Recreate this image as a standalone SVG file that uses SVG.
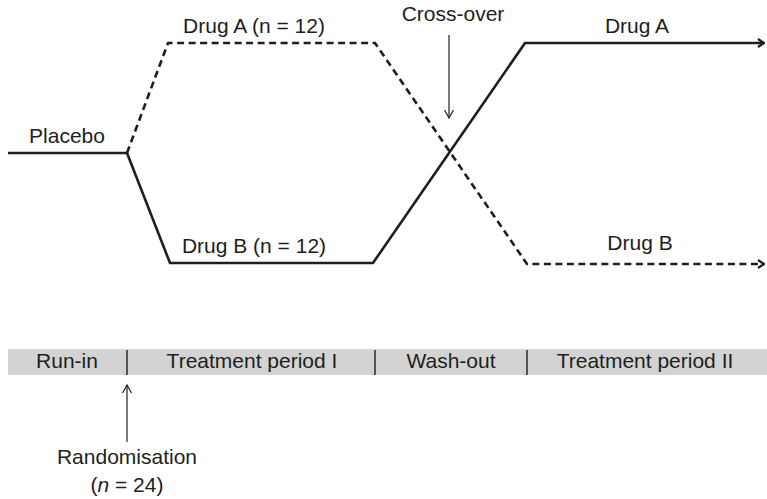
<svg xmlns="http://www.w3.org/2000/svg" width="767" height="499" viewBox="0 0 767 499">
  <style>
    text { font-family: "Liberation Sans", Arial, sans-serif; font-size: 21px; fill: #1e1e1e; text-anchor: middle; }
    .arm { fill: none; stroke: #1e1e1e; stroke-width: 2.6; stroke-linejoin: miter; }
    .dash { stroke-dasharray: 7 4.5; }
    .thin { fill: none; stroke: #1e1e1e; stroke-width: 1.2; }
    .divider { stroke: #1e1e1e; stroke-width: 1.4; }
  </style>
  <defs>
    <marker id="headBold" viewBox="0 0 10 10" refX="9" refY="5" markerWidth="10" markerHeight="10" markerUnits="userSpaceOnUse" orient="auto">
      <path d="M3,1 L9,5 L3,9" fill="none" stroke="#1e1e1e" stroke-width="2.2"/>
    </marker>
    <marker id="headThin" viewBox="0 0 12 12" refX="11" refY="6" markerWidth="12" markerHeight="12" markerUnits="userSpaceOnUse" orient="auto">
      <path d="M3,1.5 L11,6 L3,10.5" fill="none" stroke="#1e1e1e" stroke-width="1.2"/>
    </marker>
  </defs>

  <!-- treatment arms -->
  <g id="connectors">
    <path id="placebo-run-in" class="arm" d="M8,153 L127,153"/>
    <path id="arm-a-then-b" class="arm dash" d="M127,153 L168,43 L375,43 L527,264 L764,264" marker-end="url(#headBold)"/>
    <path id="arm-b-then-a" class="arm" d="M127,153 L170,263 L373,263 L525,43 L764,43" marker-end="url(#headBold)"/>
    <path id="crossover-pointer" class="thin" d="M449,35 L449,118" marker-end="url(#headThin)"/>
    <path id="randomisation-pointer" class="thin" d="M127,442 L127,385" marker-end="url(#headThin)"/>
  </g>

  <!-- arm labels -->
  <g id="label-placebo"><text x="67" y="143">Placebo</text></g>
  <g id="label-drug-a-first"><text x="254" y="33">Drug A (n = 12)</text></g>
  <g id="label-drug-b-first"><text x="254" y="253">Drug B (n = 12)</text></g>
  <g id="label-crossover"><text x="453" y="21">Cross-over</text></g>
  <g id="label-drug-a-second"><text x="637" y="33">Drug A</text></g>
  <g id="label-drug-b-second"><text x="640" y="250">Drug B</text></g>

  <!-- study timeline -->
  <g id="timeline">
    <rect x="8" y="349" width="759" height="26" fill="#d3d3d3"/>
    <line class="divider" x1="127" y1="350" x2="127" y2="375"/>
    <line class="divider" x1="375" y1="350" x2="375" y2="375"/>
    <line class="divider" x1="527" y1="350" x2="527" y2="375"/>
    <text x="67" y="368">Run-in</text>
    <text x="252" y="368">Treatment period I</text>
    <text x="451" y="368">Wash-out</text>
    <text x="645" y="368">Treatment period II</text>
  </g>

  <g id="label-randomisation">
    <text x="127" y="464">Randomisation</text>
    <text x="127" y="492">(<tspan font-style="italic">n</tspan> = 24)</text>
  </g>
</svg>
